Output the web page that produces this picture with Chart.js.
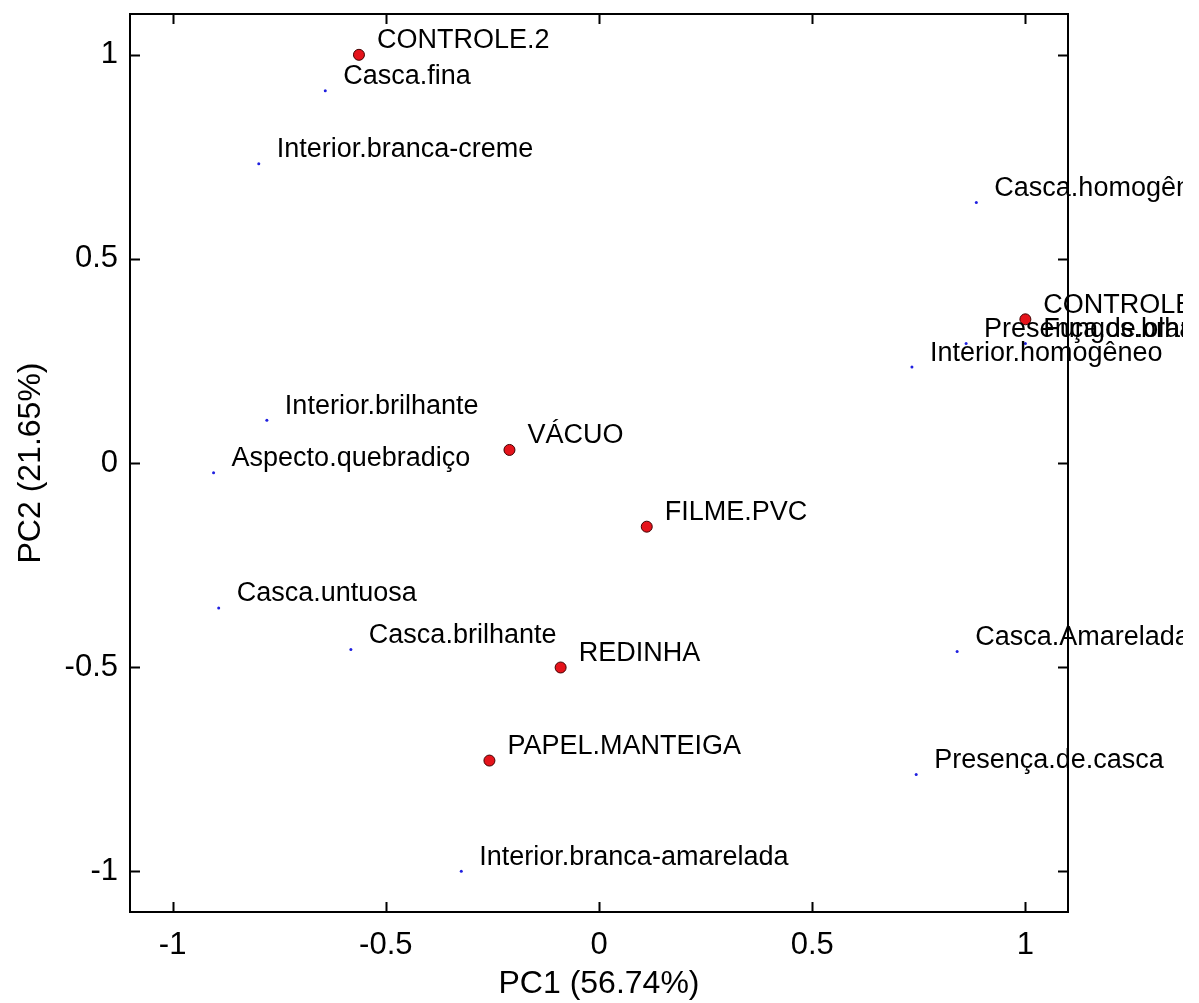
<!DOCTYPE html>
<html lang="pt">
<head>
    <meta charset="UTF-8">
    <title>PCA biplot</title>
    <script src="https://cdn.jsdelivr.net/npm/chart.js"></script>
    <style>
        body { margin: 0; background: #fff; }
        #wrap { width: 1183px; height: 1003px; position: relative; }
    </style>
</head>
<body>
    <div id="wrap"><canvas id="myChart"></canvas></div>

    <script>
        // tratamentos (pontos vermelhos)
        const obsLabels = ['CONTROLE.2', 'VÁCUO', 'FILME.PVC', 'REDINHA', 'PAPEL.MANTEIGA', 'CONTROLE.1'];
        const obsX = [-0.563, -0.210, 0.112, -0.090, -0.257, 1.000];
        const obsY = [1.000, 0.032, -0.156, -0.501, -0.729, 0.352];

        // atributos (pontos azuis)
        const varLabels = ['Casca.fina', 'Interior.branca-creme', 'Casca.homogênea', 'Presença.de.olhaduras',
            'Fungos.brancos', 'Interior.homogêneo', 'Interior.brilhante', 'Aspecto.quebradiço',
            'Casca.untuosa', 'Casca.brilhante', 'Casca.Amarelada', 'Presença.de.casca', 'Interior.branca-amarelada'];
        const varX = [-0.642, -0.798, 0.885, 0.861, 1.000, 0.734, -0.779, -0.904, -0.892, -0.582, 0.840, 0.744, -0.323];
        const varY = [0.912, 0.733, 0.638, 0.293, 0.293, 0.235, 0.105, -0.024, -0.355, -0.457, -0.462, -0.763, -1.000];

        const xTicks = [-1, -0.5, 0, 0.5, 1];
        const yTicks = [-1, -0.5, 0, 0.5, 1];

        const FONT = "Arial, 'Liberation Sans', sans-serif";

        const toPoints = (xs, ys) => xs.map((x, i) => ({ x: x, y: ys[i] }));

        // rótulos dos pontos
        const pointLabels = {
            id: 'pointLabels',
            afterDatasetsDraw(chart) {
                const ctx = chart.ctx;
                ctx.save();
                ctx.font = '27px ' + FONT;
                ctx.fillStyle = '#000';
                ctx.textBaseline = 'middle';
                ctx.textAlign = 'left';
                chart.data.datasets.forEach((ds, di) => {
                    const meta = chart.getDatasetMeta(di);
                    meta.data.forEach((pt, i) => {
                        ctx.fillText(ds.names[i], pt.x + 18, pt.y - 14);
                    });
                });
                ctx.restore();
            }
        };

        // moldura com marcas para dentro
        const frame = {
            id: 'frame',
            afterDraw(chart) {
                const ctx = chart.ctx;
                const a = chart.chartArea;
                const sx = chart.scales.x, sy = chart.scales.y;
                const len = 10;
                ctx.save();
                ctx.strokeStyle = '#000';
                ctx.lineWidth = 2;
                ctx.strokeRect(a.left, a.top, a.right - a.left, a.bottom - a.top);
                ctx.beginPath();
                xTicks.forEach(v => {
                    const px = Math.round(sx.getPixelForValue(v)) + 0.5;
                    ctx.moveTo(px, a.bottom); ctx.lineTo(px, a.bottom - len);
                    ctx.moveTo(px, a.top); ctx.lineTo(px, a.top + len);
                });
                yTicks.forEach(v => {
                    const py = Math.round(sy.getPixelForValue(v)) + 0.5;
                    ctx.moveTo(a.left, py); ctx.lineTo(a.left + len, py);
                    ctx.moveTo(a.right, py); ctx.lineTo(a.right - len, py);
                });
                ctx.stroke();
                ctx.restore();
            }
        };

        const ctx = document.getElementById('myChart').getContext('2d');
        const myChart = new Chart(ctx, {
            type: 'scatter',
            data: {
                datasets: [
                    {
                        names: varLabels,
                        data: toPoints(varX, varY),
                        pointRadius: 1.5,
                        pointBackgroundColor: '#1f1fe0',
                        pointBorderColor: '#1f1fe0',
                        pointBorderWidth: 0,
                        clip: false
                    },
                    {
                        names: obsLabels,
                        data: toPoints(obsX, obsY),
                        pointRadius: 5.5,
                        pointBackgroundColor: '#e5131b',
                        pointBorderColor: '#400000',
                        pointBorderWidth: 1,
                        clip: false
                    }
                ]
            },
            options: {
                responsive: true,
                maintainAspectRatio: false,
                animation: false,
                layout: { padding: { left: 0, right: 115, top: 14, bottom: 0 } },
                plugins: {
                    legend: { display: false },
                    tooltip: { enabled: false }
                },
                scales: {
                    x: {
                        type: 'linear',
                        min: -1.1,
                        max: 1.1,
                        afterBuildTicks: (scale) => { scale.ticks = xTicks.map(v => ({ value: v })); },
                        afterFit: (scale) => {
                            scale.height = 91;
                            scale.paddingLeft = 0;
                            scale.paddingRight = 0;
                        },
                        grid: { display: false, drawTicks: false },
                        border: { display: false },
                        ticks: {
                            padding: 15,
                            color: '#000',
                            font: { family: FONT, size: 31 },
                            maxRotation: 0,
                            callback: (v) => String(v)
                        },
                        title: {
                            display: true,
                            text: 'PC1 (56.74%)',
                            color: '#000',
                            font: { family: FONT, size: 32 },
                            padding: { top: 0, bottom: 0 }
                        }
                    },
                    y: {
                        type: 'linear',
                        min: -1.1,
                        max: 1.1,
                        afterBuildTicks: (scale) => { scale.ticks = yTicks.map(v => ({ value: v })); },
                        afterFit: (scale) => {
                            scale.width = 130;
                            scale.paddingTop = 0;
                            scale.paddingBottom = 0;
                        },
                        grid: { display: false, drawTicks: false },
                        border: { display: false },
                        ticks: {
                            padding: 12,
                            color: '#000',
                            font: { family: FONT, size: 31 },
                            callback: (v) => String(v)
                        },
                        title: {
                            display: true,
                            text: 'PC2 (21.65%)',
                            color: '#000',
                            font: { family: FONT, size: 32 },
                            padding: { top: 12, bottom: 12 }
                        }
                    }
                }
            },
            plugins: [pointLabels, frame]
        });
    </script>
</body>
</html>
